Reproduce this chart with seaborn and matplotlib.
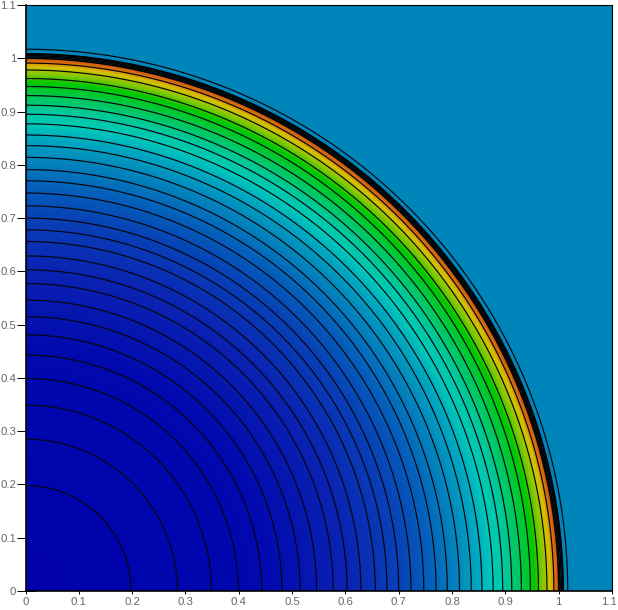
import numpy as np
import matplotlib
matplotlib.use('Agg')
import matplotlib.pyplot as plt
from matplotlib.colors import LinearSegmentedColormap
from matplotlib.transforms import ScaledTranslation
import seaborn as sns

# --- values ---
AXIS_MAX = 1.1
tick_values = [0, 0.1, 0.2, 0.3, 0.4, 0.5, 0.6, 0.7, 0.8, 0.9, 1, 1.1]
tick_labels = ['0', '0.1', '0.2', '0.3', '0.4', '0.5', '0.6', '0.7', '0.8', '0.9', '1', '1.1']

# radius -> colour along the field
profile_radius = [0.0, 0.45, 0.60, 0.70, 0.76, 0.81, 0.85, 0.875, 0.90, 0.93, 0.955, 0.97, 0.985, 0.993, 0.9995, 1.0005, 1.1]
profile_colour = ['#0000aa', '#0008ae', '#0a22b2', '#0840b6', '#0460ba', '#0385bc', '#00a8c0',
                  '#00c8b8', '#00c8a0', '#00c850', '#00c800', '#80c800', '#d8c000', '#d87010',
                  '#d05810', '#0085ba', '#0085ba']

# thin contour radii
contour_radius = [0.198, 0.285, 0.349, 0.399, 0.443, 0.481, 0.515, 0.546, 0.577, 0.603, 0.629, 0.656,
                  0.678, 0.70, 0.723, 0.747, 0.770, 0.791, 0.814, 0.836, 0.856, 0.877, 0.895,
                  0.912, 0.930, 0.947, 0.962, 0.978, 0.991, 1.017]
# the dense contours that merge into the black ring
ring_radius = [1.0, 1.0025, 1.005, 1.0075, 1.0085]

# --- build field ---
N = 800
centres = (np.arange(N) + 0.5) * AXIS_MAX / N
X, Y = np.meshgrid(centres, centres)
R = np.hypot(X, Y)

cmap = LinearSegmentedColormap.from_list(
    'field', [(r / AXIS_MAX, c) for r, c in zip(profile_radius, profile_colour)], N=2048)

# --- plot ---
sns.set_theme(style='white')
plt.rcParams['font.family'] = ['Liberation Sans', 'DejaVu Sans']

fig = plt.figure(figsize=(6.18, 6.10), dpi=100)
ax = fig.add_axes([25.5 / 618, 1 - 591 / 610, 586.5 / 618, 586 / 610])
sns.heatmap(R, ax=ax, cmap=cmap, vmin=0, vmax=AXIS_MAX, cbar=False, square=False,
            xticklabels=False, yticklabels=False, rasterized=True)
ax.invert_yaxis()

scale = N / AXIS_MAX
ax.contour(X * scale, Y * scale, R, levels=contour_radius, colors='#05050c', linewidths=0.85)
ax.contour(X * scale, Y * scale, R, levels=ring_radius, colors='black', linewidths=1.1)

tick_pos = [v * scale for v in tick_values]
ax.set_xticks(tick_pos)
ax.set_xticklabels(tick_labels)
ax.set_yticks(tick_pos)
ax.set_yticklabels(tick_labels)
ax.set_xticks(tick_pos, minor=True)
ax.xaxis.remove_overlapping_locs = False
ax.tick_params(axis='y', which='major', direction='inout', length=13, width=0.7,
               color='black', labelcolor='#666666', labelsize=8.2, pad=0.3, left=True, right=False)
ax.tick_params(axis='x', which='major', direction='in', length=7, width=0.7,
               color='black', labelcolor='#666666', labelsize=8.2, pad=4.5, bottom=True, top=False)
ax.tick_params(axis='x', which='minor', direction='out', length=2.5, width=0.7,
               color='black', bottom=True, top=False)
for side, spine in ax.spines.items():
    spine.set_visible(True)
    spine.set_color('black')
    spine.set_linewidth(1.2 if side in ('left', 'bottom') else 0.8)
ax.set_xlim(0, N)
ax.set_ylim(0, N)

# keep the last x label inside the picture
last_label = ax.get_xticklabels()[-1]
last_label.set_transform(last_label.get_transform() + ScaledTranslation(-2 / 72, 0, fig.dpi_scale_trans))

fig.savefig('out.png', dpi=100)
